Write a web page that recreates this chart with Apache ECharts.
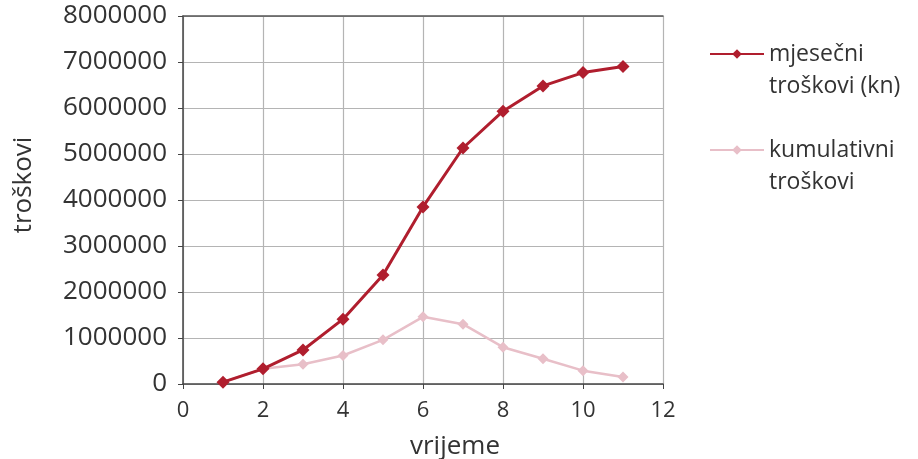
<!DOCTYPE html>
<html>
<head>
<meta charset="utf-8">
<script src="https://cdn.jsdelivr.net/npm/echarts@6/dist/echarts.min.js"></script>
<style>html,body{margin:0;padding:0;background:#fff}#c{width:918px;height:459px}</style>
</head>
<body>
<div id="c"></div>
<script>
var months = [1, 2, 3, 4, 5, 6, 7, 8, 9, 10, 11];
var monthlyCosts = [40000, 330000, 740000, 1410000, 2370000, 3850000, 5130000, 5930000, 6480000, 6770000, 6900000];
var cumulativeCosts = [40000, 330000, 430000, 620000, 960000, 1460000, 1300000, 800000, 550000, 290000, 150000];
var seriesNames = ['mjesečni\ntroškovi (kn)', 'kumulativni\ntroškovi'];
var yTicks = [0, 1000000, 2000000, 3000000, 4000000, 5000000, 6000000, 7000000, 8000000];
var xTicks = [0, 2, 4, 6, 8, 10, 12];

function pairs(xs, ys) { return xs.map(function (x, i) { return [x, ys[i]]; }); }

var chart = echarts.init(document.getElementById('c'));
var font = '"Open Sans", "DejaVu Sans", sans-serif';
chart.setOption({
  backgroundColor: '#fff',
  animation: false,
  grid: { left: 183, right: 255, top: 16, bottom: 75, outerBoundsMode: 'none', containLabel: false },
  legend: {
    orient: 'vertical',
    left: 704,
    top: 1,
    itemWidth: 54,
    itemHeight: 12,
    itemGap: 0,
    data: [seriesNames[0], seriesNames[1]],
    formatter: function (n) { return ' \n' + n; },
    textStyle: { fontFamily: font, fontSize: 23, color: '#333', lineHeight: 32 }
  },
  xAxis: [{
    type: 'value', min: 0, max: 12, interval: 2,
    name: 'vrijeme', nameLocation: 'middle', nameGap: 50,
    nameTextStyle: { fontFamily: font, fontSize: 26, color: '#333', padding: [0, 0, 0, 64] },
    axisLine: { lineStyle: { color: '#444', width: 1.5 } },
    axisTick: { show: true, length: 5, lineStyle: { color: '#444' } },
    axisLabel: { fontFamily: font, fontSize: 22, color: '#333', margin: 16,
      formatter: function (v) { return xTicks.indexOf(v) >= 0 ? String(v) : ''; } },
    splitLine: { show: true, lineStyle: { color: '#b4b4b4', width: 1.2 } }
  }, {
    type: 'value', min: 0, max: 12, position: 'top',
    axisLine: { show: true, lineStyle: { color: '#555', width: 1.5 } },
    axisTick: { show: false }, axisLabel: { show: false }, splitLine: { show: false }
  }],
  yAxis: {
    type: 'value', min: 0, max: 8000000, interval: 1000000,
    name: 'troškovi', nameLocation: 'middle', nameGap: 146, nameRotate: 90,
    nameTextStyle: { fontFamily: font, fontSize: 26, color: '#333', padding: [0, 0, 0, 30] },
    axisLine: { show: true, lineStyle: { color: '#444', width: 1.5 } },
    axisTick: { show: true, length: 5, lineStyle: { color: '#444' } },
    axisLabel: { fontFamily: font, fontSize: 26, color: '#333', margin: 16,
      formatter: function (v) { return yTicks.indexOf(v) >= 0 ? String(v) : ''; } },
    splitLine: { show: true, lineStyle: { color: '#b4b4b4', width: 1.2 } }
  },
  series: [{
    name: seriesNames[0], type: 'line', z: 5,
    data: pairs(months, monthlyCosts),
    symbol: 'diamond', symbolSize: 13,
    lineStyle: { color: '#b01e2e', width: 3 },
    itemStyle: { color: '#b01e2e' }
  }, {
    name: seriesNames[1], type: 'line', z: 3,
    data: pairs(months, cumulativeCosts),
    symbol: 'diamond', symbolSize: 11,
    lineStyle: { color: '#e8bfc8', width: 2.5 },
    itemStyle: { color: '#e8bfc8' }
  }]
});
</script>
</body>
</html>
